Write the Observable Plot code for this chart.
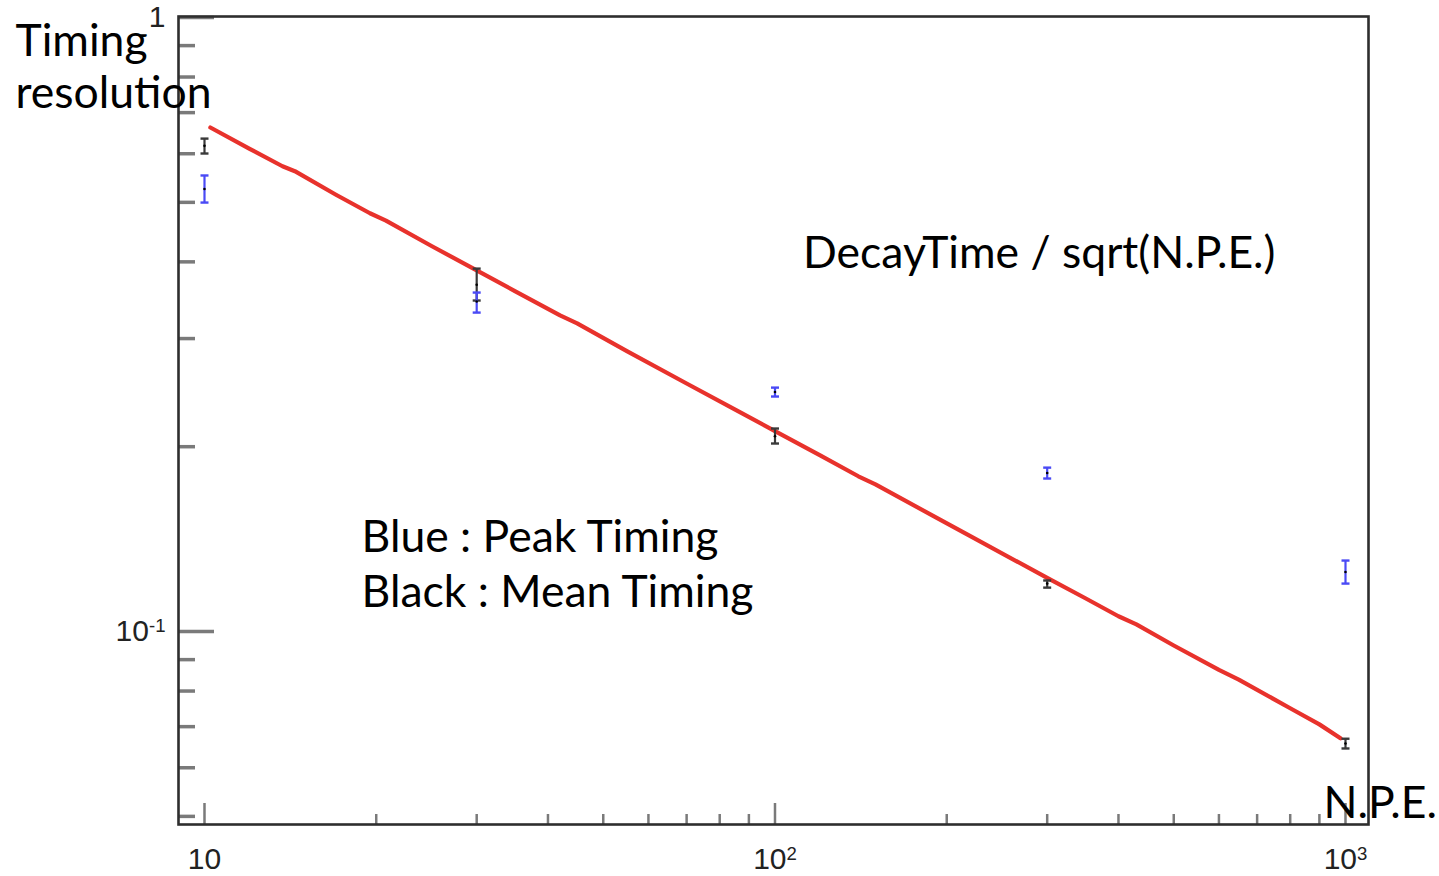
<!DOCTYPE html>
<html><head><meta charset="utf-8">
<script src="https://cdn.jsdelivr.net/npm/d3@7"></script>
<script src="https://cdn.jsdelivr.net/npm/@observablehq/plot@0.6"></script>
<style>html,body{margin:0;padding:0;background:#fff;} #chart{width:1439px;height:876px;}</style>
</head><body><div id="chart"></div>
<script>
// ---- data ----
const npe = [10, 30, 100, 300, 1000];
const meanTiming = [0.618, 0.367, 0.208, 0.1197, 0.0657];
const meanLow    = [0.6005, 0.346, 0.2024, 0.1179, 0.0645];
const meanHigh   = [0.635, 0.390, 0.2141, 0.1211, 0.0669];
const peakTiming = [0.5256, 0.3447, 0.2455, 0.1812, 0.1250];
const peakLow    = [0.4996, 0.3307, 0.2414, 0.1775, 0.1197];
const peakHigh   = [0.5530, 0.3565, 0.2496, 0.1849, 0.1305];

const fitNpe = [10.24, 12, 13.7, 14.4, 17, 19.5, 20.8, 25, 30, 35, 42, 45, 55, 70, 85, 100, 120, 140, 150, 190, 220, 300, 350, 400, 430, 500, 600, 650, 800, 900, 980];
const fitRes = [0.662, 0.611, 0.5725, 0.562, 0.5145, 0.4800, 0.4670, 0.4245, 0.3875, 0.3585, 0.3272, 0.3175, 0.2862, 0.2535, 0.2300, 0.2120, 0.1936, 0.1790, 0.1737, 0.1540, 0.1430, 0.1223, 0.1133, 0.1059, 0.1027, 0.0949, 0.0866, 0.0835, 0.0750, 0.0706, 0.0670];

const xMajorTicks = [10, 100, 1000];
const xTickLabels = ["10", "10^2", "10^3"];
const xMinorTicks = [20, 30, 40, 50, 60, 70, 80, 90, 200, 300, 400, 500, 600, 700, 800, 900];
const yMajorTicks = [0.1, 1];
const yTickLabels = ["10^-1", "1"];
const yMinorTicks = [0.05, 0.06, 0.07, 0.08, 0.09, 0.2, 0.3, 0.4, 0.5, 0.6, 0.7, 0.8, 0.9];

const annotTexts = ["DecayTime / sqrt(N.P.E.)", "Blue : Peak Timing", "Black : Mean Timing"];
const annotX = [112, 18.85, 18.85];
const annotY = [0.4126, 0.1422, 0.1157];
const yTitle = "Timing\nresolution";
const xTitle = "N.P.E.";

// ---- tables ----
const meanData = npe.map((x, i) => ({x, y: meanTiming[i], lo: meanLow[i], hi: meanHigh[i]}));
const peakData = npe.map((x, i) => ({x, y: peakTiming[i], lo: peakLow[i], hi: peakHigh[i]}));
const fitData = fitNpe.map((x, i) => ({x, y: fitRes[i]}));
const annotData = annotTexts.map((t, i) => ({t, x: annotX[i], y: annotY[i]}));

const capSymbol = {draw(ctx, size) { const r = Math.sqrt(size / Math.PI); ctx.moveTo(-r, 0); ctx.lineTo(r, 0); }};

const blue = "#4a4af5";
const black = "#3a3a3a";
const annotFont = "Lato, 'Open Sans', sans-serif";
const annotSize = 44.5;

function errMarks(data, color) {
  return [
    Plot.ruleX(data, {x: "x", y1: "lo", y2: "hi", stroke: color, strokeWidth: 2.2}),
    Plot.dot(data, {x: "x", y: "lo", symbol: capSymbol, r: 4, fill: "none", stroke: color, strokeWidth: 2.4}),
    Plot.dot(data, {x: "x", y: "hi", symbol: capSymbol, r: 4, fill: "none", stroke: color, strokeWidth: 2.4}),
    Plot.dot(data, {x: "x", y: "y", r: 1.3, fill: "#000", stroke: "none"})
  ];
}

const chart = Plot.plot({
  width: 1439,
  height: 876,
  marginLeft: 178,
  marginRight: 71,
  marginTop: 16,
  marginBottom: 52,
  style: {fontFamily: "'Liberation Sans', Arial, sans-serif", fontSize: "30px", background: "#fff", color: "#222"},
  x: {type: "log", domain: [9.004, 1097.3], axis: null},
  y: {type: "log", domain: [0.0485, 1.0038], axis: null},
  marks: [
    // ticks inside the frame
    Plot.axisY(yMinorTicks, {anchor: "left", tickSize: -17, fill: "none", stroke: "#7a7a7a", strokeWidth: 3.5, label: null}),
    Plot.axisY(yMajorTicks, {anchor: "left", tickSize: -36, fill: "none", stroke: "#7a7a7a", strokeWidth: 3.5, label: null}),
    Plot.axisX(xMinorTicks, {anchor: "bottom", tickSize: -10, fill: "none", stroke: "#7a7a7a", strokeWidth: 2.5, label: null}),
    Plot.axisX(xMajorTicks, {anchor: "bottom", tickSize: -21, fill: "none", stroke: "#7a7a7a", strokeWidth: 2.5, label: null}),
    // tick labels
    Plot.axisY(yMajorTicks, {anchor: "left", tickSize: 0, tickPadding: 13, stroke: "none", fill: "#222", label: null,
      tickFormat: (d) => yTickLabels[yMajorTicks.indexOf(d)]}),
    Plot.axisX(xMajorTicks, {anchor: "bottom", tickSize: 0, tickPadding: 23, stroke: "none", fill: "#222", label: null,
      tickFormat: (d) => xTickLabels[xMajorTicks.indexOf(d)]}),
    Plot.frame({stroke: "#2e2e2e", strokeWidth: 2.6}),
    // fit line
    Plot.line(fitData, {x: "x", y: "y", stroke: "#e8322c", strokeWidth: 4.2, strokeLinejoin: "round"}),
    // data with error bars
    ...errMarks(meanData, black),
    ...errMarks(peakData, blue),
    // annotations
    Plot.text(annotData, {x: "x", y: "y", text: "t", textAnchor: "start", lineAnchor: "middle",
      fontFamily: annotFont, fontSize: annotSize, fill: "#000"}),
    Plot.text([yTitle], {frameAnchor: "top-left", textAnchor: "start", lineAnchor: "top", lineHeight: 1.18,
      dx: -163, dy: 2, fontFamily: annotFont, fontSize: annotSize, fill: "#000"}),
    Plot.text([xTitle], {frameAnchor: "bottom-right", textAnchor: "start", lineAnchor: "middle",
      dx: -45, dy: -21, fontFamily: annotFont, fontSize: annotSize, fill: "#000"})
  ]
});

// superscripts for exponent tick labels
d3.select(chart).selectAll("text").each(function () {
  const t = this.textContent;
  if (!t.includes("^")) return;
  const [base, exp] = t.split("^");
  const sel = d3.select(this);
  sel.text(null);
  sel.append("tspan").text(base);
  sel.append("tspan").attr("dy", "-0.5em").attr("font-size", "0.62em").text(exp);
});

document.getElementById("chart").appendChild(chart);
</script>
</body></html>
